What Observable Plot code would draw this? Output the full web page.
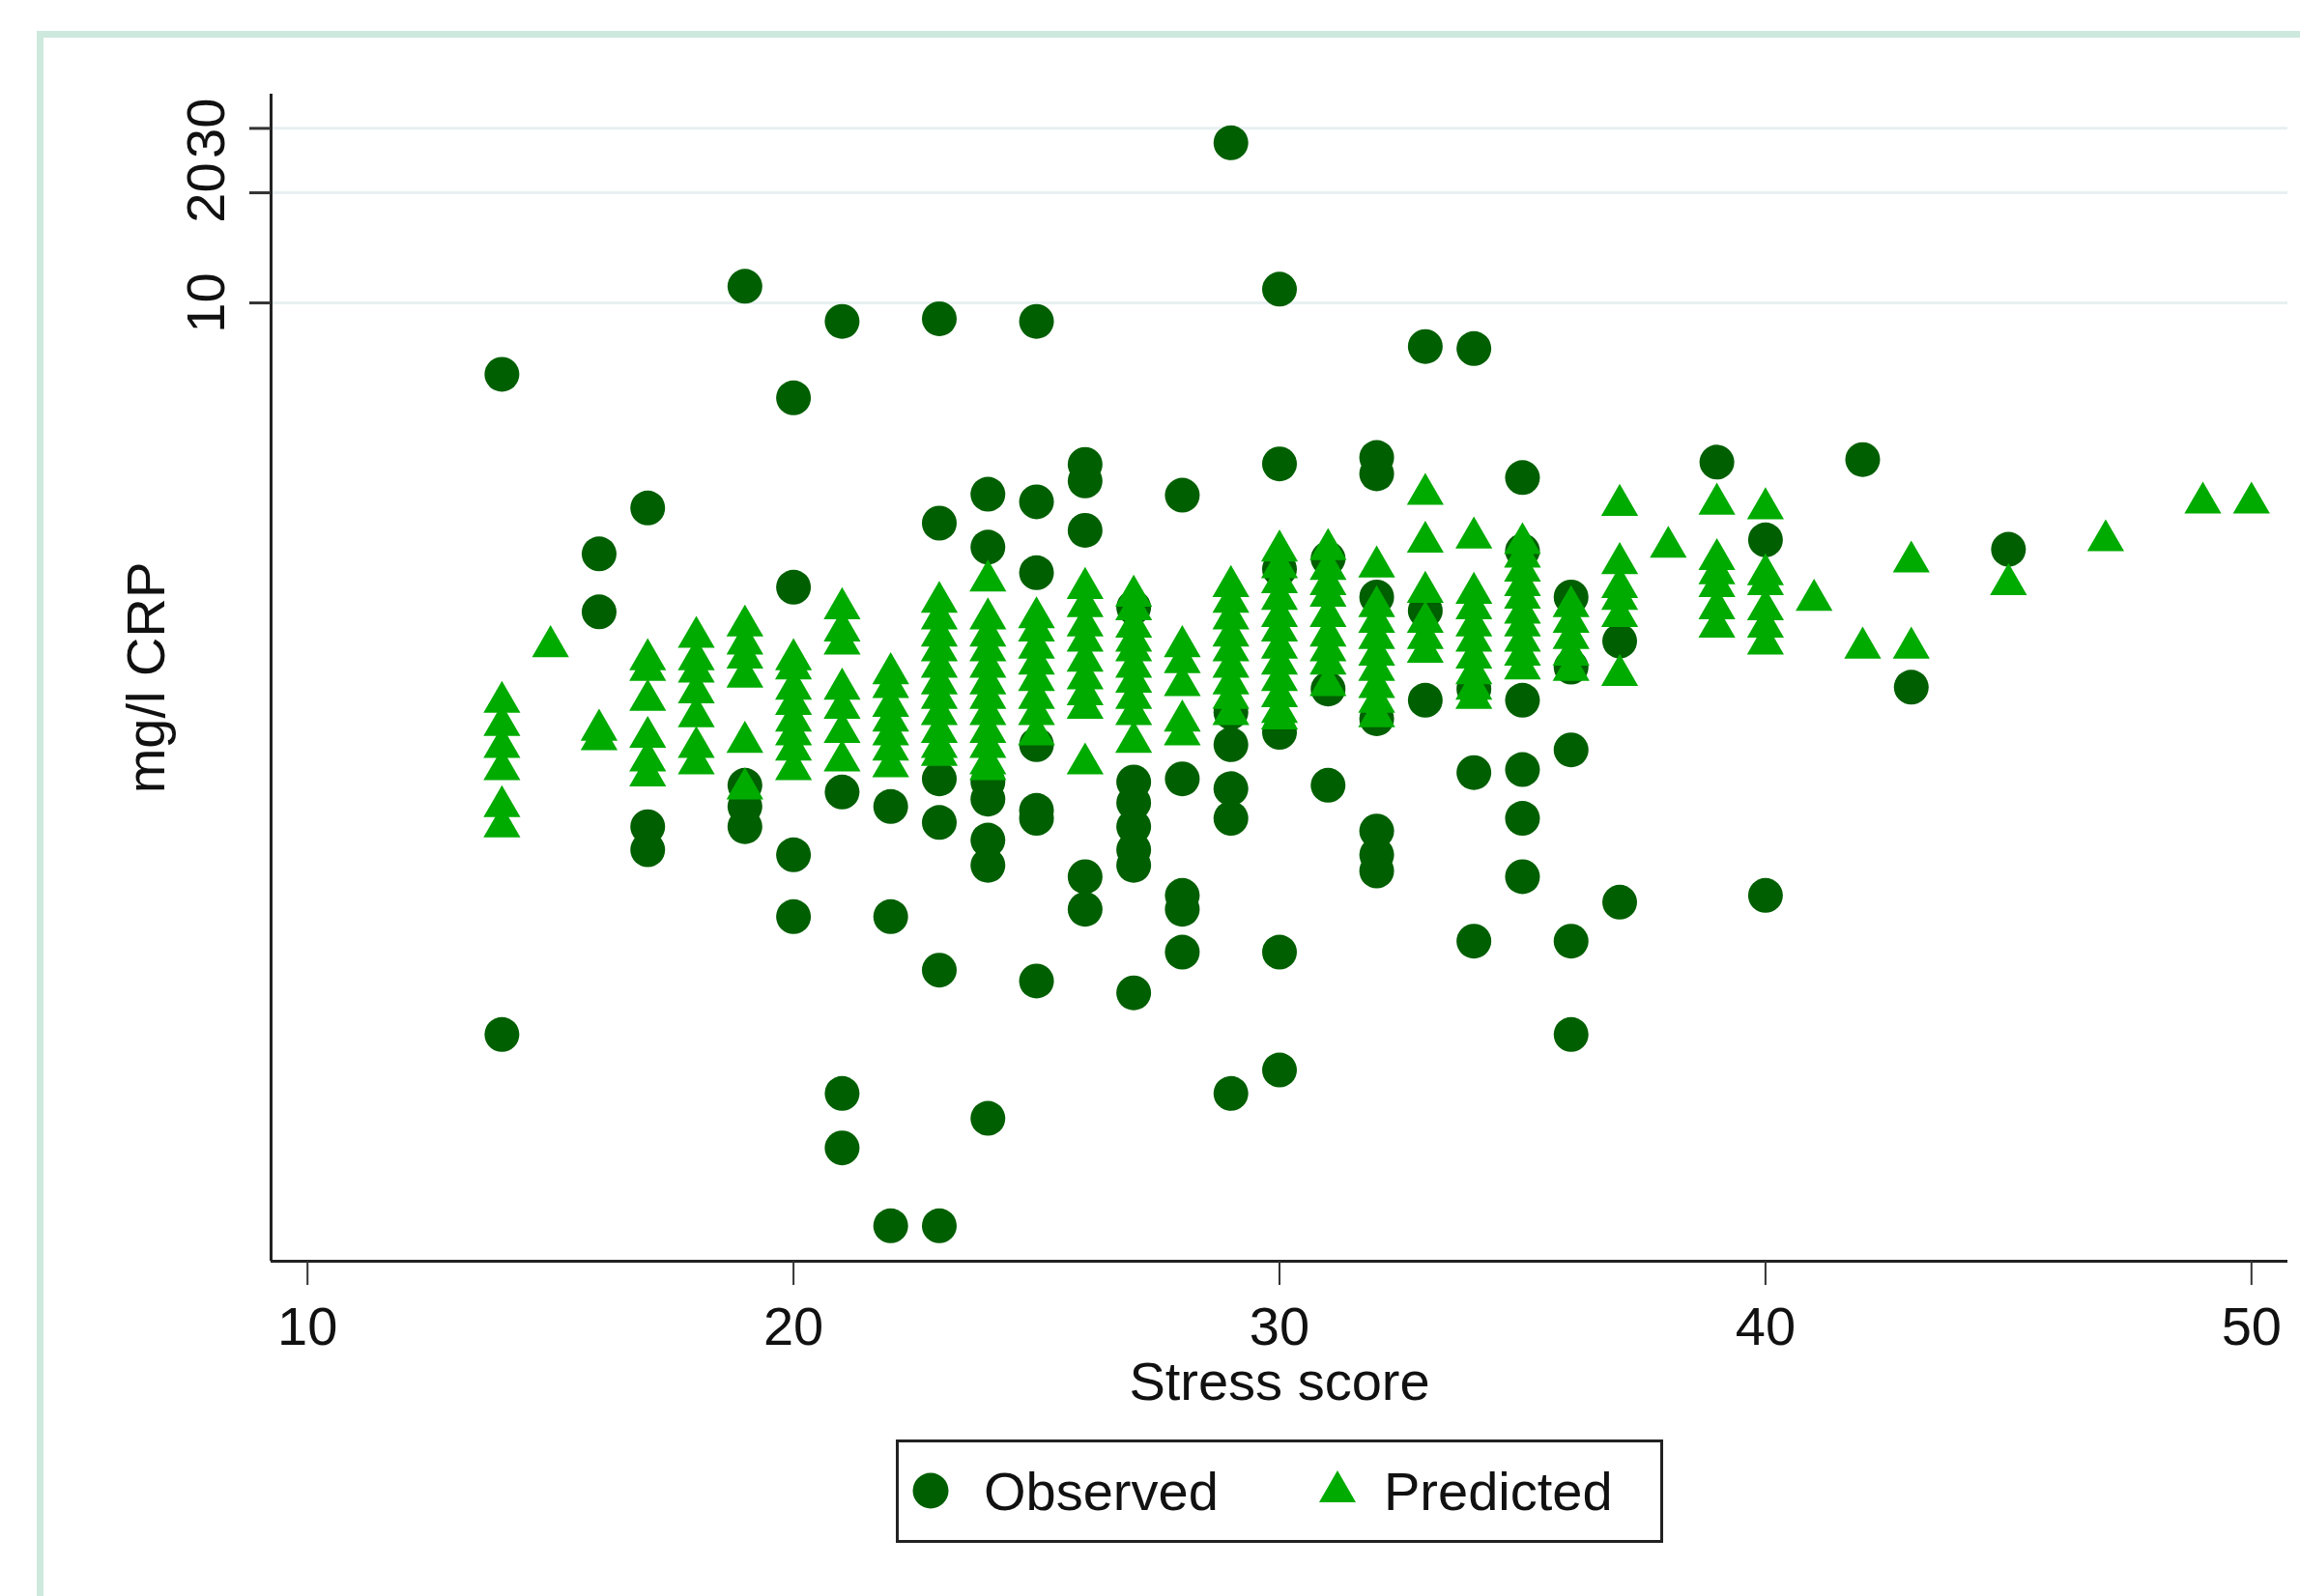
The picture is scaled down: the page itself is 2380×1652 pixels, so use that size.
<!DOCTYPE html>
<html><head><meta charset="utf-8">
<script src="https://cdn.jsdelivr.net/npm/d3@7"></script>
<script src="https://cdn.jsdelivr.net/npm/@observablehq/plot@0.6"></script>
<style>
html,body{margin:0;padding:0;background:#fff;overflow:hidden;}
body{width:2380px;height:1652px;position:relative;font-family:"Liberation Sans",Arial,sans-serif;}
#chart svg{display:block;}
#frame{position:absolute;left:38px;top:32px;width:2500px;height:1800px;border:7px solid #cde8dd;pointer-events:none;z-index:5;}
#legend{margin-left:927px;width:794px;height:107px;box-sizing:border-box;border:3px solid #222;background:#fff;}
#legend svg{display:block;}
</style></head><body>
<div id="chart"></div>
<div id="legend">
<svg width="788" height="101" viewBox="0 0 788 101">
<circle cx="33" cy="50" r="18.5" fill="#005f00"></circle>
<text x="88" y="70" font-family="Liberation Sans, Arial, sans-serif" font-size="56" fill="#111">Observed</text>
<polygon points="454,29 435,62 473,62" fill="#00ab00"></polygon>
<text x="502" y="70" font-family="Liberation Sans, Arial, sans-serif" font-size="56" fill="#111">Predicted</text>
</svg>
</div>
<div id="frame"></div>
<script>
const xTicks = [10, 20, 30, 40, 50];
const yTicks = [10, 20, 30];
const xDomain = [9.25, 50.75];
const yDomain = [0.024, 37.2];

// Observed CRP (mg/l) by stress score
const obsColumns = [14, 16, 17, 19, 20, 21, 22, 23, 24, 25, 26, 27, 28, 29, 30, 31, 32, 33, 34, 35, 36, 37, 39, 40, 42, 43, 45];
const obsValues = [
  [6.38, 0.10],
  [2.06, 1.43],
  [2.75, 0.37, 0.32],
  [11.1, 0.48, 0.42, 0.37],
  [5.5, 1.67, 0.31, 0.21],
  [8.9, 0.46, 0.069, 0.049],
  [0.42, 0.21, 0.030],
  [9.05, 2.5, 0.50, 0.38, 0.15, 0.030],
  [3.0, 2.15, 0.49, 0.44, 0.34, 0.29, 0.059],
  [8.9, 2.86, 1.83, 0.62, 0.41, 0.39, 0.14],
  [3.62, 3.26, 2.39, 0.27, 0.22],
  [1.47, 0.49, 0.43, 0.37, 0.32, 0.29, 0.13],
  [2.98, 0.50, 0.24, 0.22, 0.168],
  [27.4, 0.76, 0.62, 0.47, 0.39, 0.069],
  [10.9, 3.63, 1.87, 0.67, 0.168, 0.080],
  [2.0, 0.88, 0.48],
  [3.78, 3.41, 1.57, 0.73, 0.36, 0.31, 0.28],
  [7.6, 1.44, 0.82],
  [7.5, 0.88, 0.52, 0.18],
  [3.33, 2.10, 0.82, 0.53, 0.39, 0.27],
  [1.57, 1.01, 0.60, 0.18, 0.10],
  [1.19, 0.23],
  [3.67],
  [2.25, 0.24],
  [3.73],
  [0.89],
  [2.12]
];

// Predicted CRP (mg/l) by stress score
const predColumns = [14, 15, 16, 17, 18, 19, 20, 21, 22, 23, 24, 25, 26, 27, 28, 29, 30, 31, 32, 33, 34, 35, 36, 37, 38, 39, 40, 41, 42, 43, 45, 47, 49, 50];
const predValues = [
  [0.81, 0.70, 0.61, 0.53, 0.42, 0.37],
  [1.15],
  [0.68, 0.64],
  [1.06, 0.99, 0.82, 0.65, 0.56, 0.51],
  [1.22, 1.06, 0.98, 0.86, 0.74, 0.61, 0.55],
  [1.31, 1.17, 1.07, 0.95, 0.63, 0.47],
  [1.06, 1.00, 0.88, 0.80, 0.72, 0.66, 0.60, 0.53],
  [1.46, 1.27, 1.17, 0.88, 0.78, 0.67, 0.56],
  [0.97, 0.89, 0.79, 0.72, 0.66, 0.60, 0.54],
  [1.52, 1.37, 1.23, 1.12, 1.01, 0.91, 0.83, 0.75, 0.67, 0.61, 0.58],
  [1.74, 1.37, 1.23, 1.12, 1.01, 0.91, 0.83, 0.75, 0.67, 0.61, 0.55, 0.53],
  [1.38, 1.27, 1.14, 1.03, 0.93, 0.83, 0.75, 0.66],
  [1.66, 1.48, 1.31, 1.19, 1.05, 0.94, 0.85, 0.78, 0.55],
  [1.58, 1.45, 1.30, 1.19, 1.12, 1.01, 0.92, 0.83, 0.75, 0.63],
  [1.15, 1.04, 0.90, 0.72, 0.66],
  [1.68, 1.52, 1.37, 1.23, 1.12, 1.01, 0.91, 0.83, 0.75],
  [2.10, 1.89, 1.72, 1.55, 1.39, 1.27, 1.14, 1.03, 0.93, 0.84, 0.76, 0.73],
  [2.12, 1.87, 1.70, 1.58, 1.39, 1.23, 1.12, 1.03, 0.90],
  [1.90, 1.48, 1.34, 1.21, 1.09, 0.99, 0.89, 0.81, 0.74],
  [3.00, 2.22, 1.62, 1.34, 1.21, 1.11],
  [2.28, 1.61, 1.46, 1.31, 1.19, 1.07, 0.97, 0.88, 0.83],
  [2.20, 2.02, 1.85, 1.69, 1.56, 1.42, 1.31, 1.19, 1.09, 1.00],
  [1.48, 1.34, 1.21, 1.09, 0.99],
  [2.80, 1.94, 1.67, 1.55, 1.39, 0.96],
  [2.15],
  [2.82, 1.99, 1.82, 1.68, 1.46, 1.30],
  [2.74, 1.81, 1.70, 1.45, 1.30, 1.17],
  [1.54],
  [1.14],
  [1.96, 1.14],
  [1.70],
  [2.24],
  [2.84],
  [2.84]
];

const obsData = obsColumns.flatMap((s, i) => obsValues[i].map(v => ({stress: s, crp: v})));
const predData = predColumns.flatMap((s, i) => predValues[i].map(v => ({stress: s, crp: v})));

const font = "Liberation Sans, Arial, sans-serif";
const chart = Plot.plot({
  width: 2380,
  height: 1490,
  marginLeft: 280,
  marginRight: 13,
  marginTop: 97,
  marginBottom: 185,
  style: {background: "transparent", fontFamily: font, color: "#111", overflow: "visible"},
  x: {domain: xDomain, axis: null},
  y: {type: "log", domain: yDomain, axis: null},
  marks: [
    Plot.ruleY(yTicks, {stroke: "#e8f0f1", strokeWidth: 3}),
    Plot.dot(obsData, {x: "stress", y: "crp", r: 18, symbol: "circle", fill: "#005f00"}),
    Plot.dot(predData, {x: "stress", y: "crp", r: 14.2, symbol: "triangle", fill: "#00ab00"}),
    Plot.ruleX([xDomain[0]], {stroke: "#222", strokeWidth: 3}),
    Plot.ruleY([yDomain[0]], {stroke: "#222", strokeWidth: 3}),
    Plot.axisX(xTicks, {tickSize: 25, tickPadding: 22, fontSize: 56, strokeWidth: 2, stroke: "#333", fill: "#111", label: null}),
    Plot.axisY(yTicks, {tickSize: 22, strokeWidth: 3, stroke: "#333", fill: "none", label: null}),
    Plot.text(yTicks, {y: d => d, text: d => String(d), frameAnchor: "left", dx: -66, rotate: -90, fontSize: 56, textAnchor: "middle", lineAnchor: "middle", fill: "#111"}),
    Plot.text(["Stress score"], {text: d => d, frameAnchor: "bottom", dy: 126, fontSize: 56, textAnchor: "middle", lineAnchor: "middle", fill: "#111"}),
    Plot.text(["mg/l CRP"], {text: d => d, frameAnchor: "left", dx: -128, rotate: -90, fontSize: 56, textAnchor: "middle", lineAnchor: "middle", fill: "#111"})
  ]
});
document.getElementById("chart").appendChild(chart);
</script>
</body></html>
